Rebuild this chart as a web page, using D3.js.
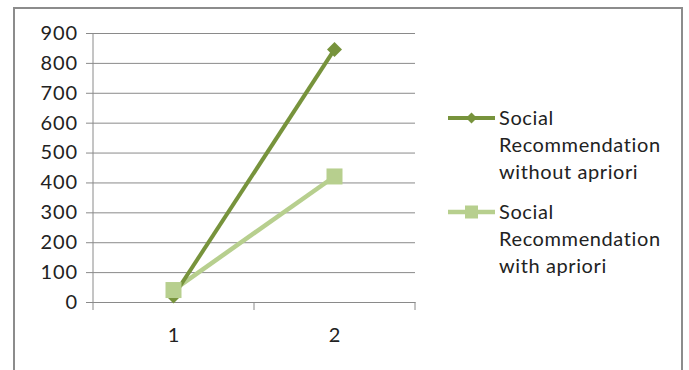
<!DOCTYPE html>
<html>
<head>
<meta charset="utf-8">
<script src="https://cdn.jsdelivr.net/npm/d3@7"></script>
<style>
  html, body { margin: 0; padding: 0; background: #fff; }
  svg { display: block; }
  text { font-family: Lato, "Open Sans", sans-serif; fill: #222; }
</style>
</head>
<body>
<script>
// Chart data
const categories = ["1", "2"];
const seriesNames = [
  ["Social", "Recommendation", "without apriori"],
  ["Social", "Recommendation", "with apriori"]
];
const withoutApriori = [20, 845];
const withApriori = [40, 420];
const yTicks = [0, 100, 200, 300, 400, 500, 600, 700, 800, 900];

const W = 689, H = 370;
const svg = d3.select("body").append("svg").attr("width", W).attr("height", H);

// outer frame
svg.append("rect")
  .attr("x", 14).attr("y", 8)
  .attr("width", 668).attr("height", 372)
  .attr("fill", "#fff").attr("stroke", "#8c8c8c").attr("stroke-width", 2);

const plot = { left: 93, right: 415, top: 33, bottom: 302 };

const x = d3.scaleBand().domain(categories).range([plot.left, plot.right]);
const y = d3.scaleLinear().domain([0, 900]).range([plot.bottom, plot.top]);

// horizontal gridlines with left tick stubs
const yAxis = d3.axisLeft(y).tickValues(yTicks).tickSize(-(plot.right - plot.left)).tickPadding(15);
const gy = svg.append("g").attr("transform", `translate(${plot.left},0)`).call(yAxis);
gy.select(".domain").remove();
gy.selectAll(".tick line").attr("stroke", "#8a8a8a").attr("x1", -7);
gy.selectAll(".tick text").attr("font-size", 20).attr("fill", "#222")
  .attr("letter-spacing", 0.9)
  .attr("font-family", "Lato, 'Open Sans', sans-serif");

// vertical axis line
svg.append("line")
  .attr("x1", plot.left).attr("x2", plot.left)
  .attr("y1", plot.top).attr("y2", plot.bottom)
  .attr("stroke", "#8a8a8a");

// category axis
const xAxis = d3.axisBottom(x).tickSize(0).tickPadding(26);
const gx = svg.append("g").attr("transform", `translate(0,${plot.bottom})`).call(xAxis);
gx.select(".domain").attr("stroke", "#8a8a8a");
gx.selectAll(".tick text").attr("font-size", 20).attr("fill", "#222")
  .attr("font-family", "Lato, 'Open Sans', sans-serif");
// tick marks between categories
const boundaries = [plot.left, ...categories.map(c => x(c) + x.bandwidth())];
svg.selectAll("line.xt").data(boundaries).enter().append("line")
  .attr("class", "xt")
  .attr("x1", d => d).attr("x2", d => d)
  .attr("y1", plot.bottom).attr("y2", plot.bottom + 8)
  .attr("stroke", "#8a8a8a");

const cx = c => x(c) + x.bandwidth() / 2;
const line = d3.line().x((d, i) => cx(categories[i])).y(d => y(d));

const darkGreen = "#77933c";
const lightGreen = "#b7cf8e";

// series with apriori (drawn first, beneath)
svg.append("path").datum(withApriori)
  .attr("d", line).attr("fill", "none")
  .attr("stroke", lightGreen).attr("stroke-width", 4.5);

// series without apriori
svg.append("path").datum(withoutApriori)
  .attr("d", line).attr("fill", "none")
  .attr("stroke", darkGreen).attr("stroke-width", 4);

const diamond = s => `M0,${-s} L${s},0 L0,${s} L${-s},0 Z`;

svg.selectAll("path.dm").data(withoutApriori).enter().append("path")
  .attr("class", "dm")
  .attr("d", diamond(7.5))
  .attr("transform", (d, i) => `translate(${cx(categories[i])},${y(d)})`)
  .attr("fill", darkGreen);

svg.selectAll("rect.sq").data(withApriori).enter().append("rect")
  .attr("class", "sq")
  .attr("x", (d, i) => cx(categories[i]) - 8)
  .attr("y", d => y(d) - 8)
  .attr("width", 16).attr("height", 16)
  .attr("fill", lightGreen);

// legend
const legend = svg.append("g");
const legendItems = [
  { lines: seriesNames[0], color: darkGreen, marker: "diamond", y: 118, w: 4 },
  { lines: seriesNames[1], color: lightGreen, marker: "square", y: 212, w: 4.5 }
];
legendItems.forEach(it => {
  legend.append("line")
    .attr("x1", 448).attr("x2", 495)
    .attr("y1", it.y).attr("y2", it.y)
    .attr("stroke", it.color).attr("stroke-width", it.w);
  if (it.marker === "diamond") {
    legend.append("path").attr("d", diamond(5.5))
      .attr("transform", `translate(471.5,${it.y})`).attr("fill", it.color);
  } else {
    legend.append("rect").attr("x", 465).attr("y", it.y - 6.5)
      .attr("width", 13).attr("height", 13).attr("fill", it.color);
  }
  it.lines.forEach((t, k) => {
    legend.append("text")
      .attr("x", 499).attr("y", it.y + 27 * k)
      .attr("dy", "0.35em")
      .attr("font-size", 20)
      .attr("letter-spacing", 0.6)
      .text(t);
  });
});
</script>
</body>
</html>
